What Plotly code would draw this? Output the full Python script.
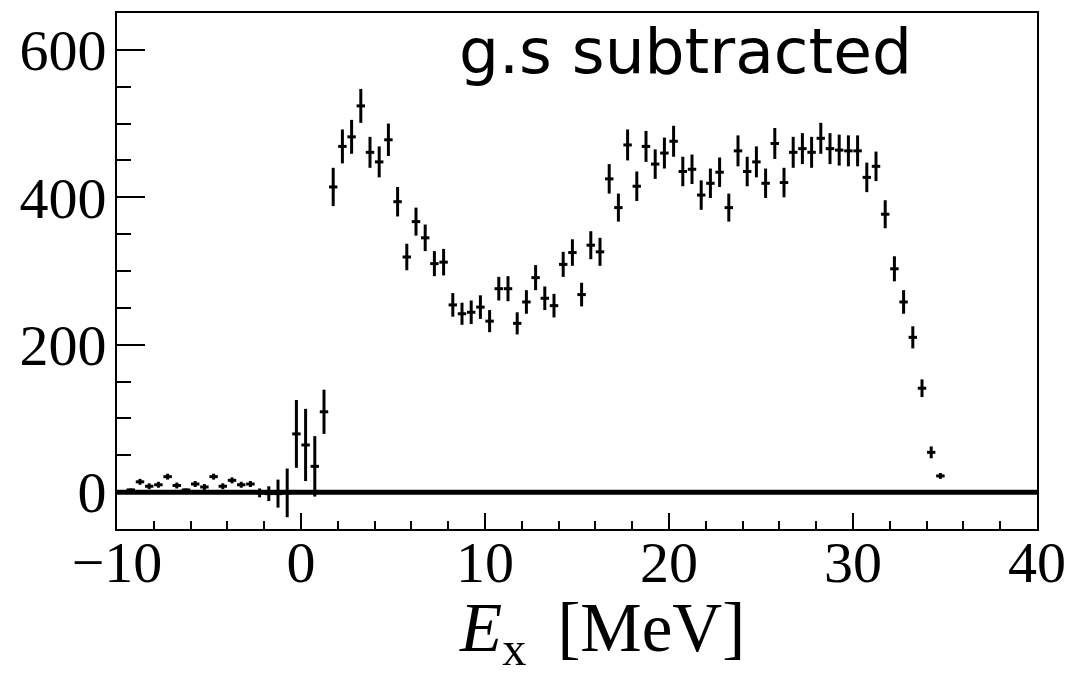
import plotly.graph_objects as go

# Excitation-energy bin centres [MeV] (0.5 MeV bins)
ex_mev = [
    -9.25, -8.75, -8.25, -7.75, -7.25, -6.75, -6.25, -5.75, -5.25, -4.75,
    -4.25, -3.75, -3.25, -2.75, -2.25, -1.75, -1.25, -0.75, -0.25, 0.25,
    0.75, 1.25, 1.75, 2.25, 2.75, 3.25, 3.75, 4.25, 4.75, 5.25,
    5.75, 6.25, 6.75, 7.25, 7.75, 8.25, 8.75, 9.25, 9.75, 10.25,
    10.75, 11.25, 11.75, 12.25, 12.75, 13.25, 13.75, 14.25, 14.75, 15.25,
    15.75, 16.25, 16.75, 17.25, 17.75, 18.25, 18.75, 19.25, 19.75, 20.25,
    20.75, 21.25, 21.75, 22.25, 22.75, 23.25, 23.75, 24.25, 24.75, 25.25,
    25.75, 26.25, 26.75, 27.25, 27.75, 28.25, 28.75, 29.25, 29.75, 30.25,
    30.75, 31.25, 31.75, 32.25, 32.75, 33.25, 33.75, 34.25, 34.75,
]

# Counts after ground-state subtraction
counts = [
    3, 14, 8, 10, 21, 9, 3, 11, 7, 21,
    8, 16, 10, 11, -1, -2, -2, -1, 79, 64,
    35, 109, 414, 469, 482, 524, 461, 448, 478, 394,
    319, 367, 345, 310, 312, 254, 242, 244, 251, 232,
    276, 276, 229, 258, 291, 263, 253, 309, 325, 268,
    335, 326, 425, 386, 471, 415, 469, 445, 460, 476,
    435, 438, 403, 419, 434, 386, 463, 435, 448, 419,
    473, 420, 461, 466, 461, 480, 466, 464, 463, 463,
    427, 442, 377, 303, 258, 210, 141, 54, 22,
]

# Statistical uncertainties on the counts
errors = [
    2, 4, 4, 4, 4, 4, 2, 4, 4, 4,
    4, 4, 4, 4, 6, 10, 19, 33, 46, 49,
    41, 30, 26, 23, 23, 23, 21, 21, 22, 20,
    18, 19, 18, 17, 18, 16, 15, 16, 16, 15,
    16, 17, 15, 16, 17, 16, 16, 17, 18, 16,
    19, 19, 20, 19, 21, 20, 21, 20, 21, 21,
    20, 20, 20, 20, 20, 19, 21, 20, 21, 20,
    21, 20, 21, 21, 21, 21, 21, 21, 21, 21,
    20, 20, 19, 17, 16, 15, 12, 8, 4,
]

HALF_BIN = 0.23

serif = "Liberation Serif"

fig = go.Figure()

fig.add_trace(go.Scatter(
    x=ex_mev,
    y=counts,
    mode="markers",
    marker=dict(color="black", size=2),
    error_y=dict(type="data", array=errors, visible=True,
                 color="black", thickness=3, width=0),
    error_x=dict(type="constant", value=HALF_BIN, visible=True,
                 color="black", thickness=3, width=0),
    showlegend=False,
    hoverinfo="x+y",
))

# Reference line at zero counts
fig.add_hline(y=0, line=dict(color="black", width=5))

axis_common = dict(
    showline=True,
    linecolor="black",
    linewidth=2,
    mirror=True,
    showgrid=False,
    zeroline=False,
    ticks="inside",
    tickcolor="black",
    tickwidth=1.5,
    tickfont=dict(family=serif, size=58, color="black"),
)

fig.update_xaxes(
    range=[-10, 40],
    dtick=10,
    ticklen=16,
    ticklabelstandoff=-19,
    minor=dict(dtick=2, ticks="inside", ticklen=8, tickwidth=1.5,
               tickcolor="black"),
    **axis_common,
)
fig.update_yaxes(
    range=[-50, 650],
    dtick=200,
    ticklen=28,
    ticklabelstandoff=-3,
    minor=dict(dtick=50, ticks="inside", ticklen=14, tickwidth=1.5,
               tickcolor="black"),
    **axis_common,
)

fig.add_annotation(
    text="g.s subtracted",
    xref="paper", yref="paper",
    x=0.37, y=0.925,
    xanchor="left", yanchor="middle",
    showarrow=False,
    font=dict(family="DejaVu Sans", size=63, color="black"),
)

fig.add_annotation(
    text="<i>E</i><sub>x</sub> \u2009[MeV]",
    xref="paper", yref="paper",
    x=0.527, y=-0.2,
    xanchor="center", yanchor="middle",
    showarrow=False,
    font=dict(family=serif, size=69, color="black"),
)

fig.update_layout(
    width=1085,
    height=676,
    margin=dict(l=117, r=48, t=13, b=147, pad=0),
    paper_bgcolor="white",
    plot_bgcolor="white",
)

fig.write_html("out.html")
